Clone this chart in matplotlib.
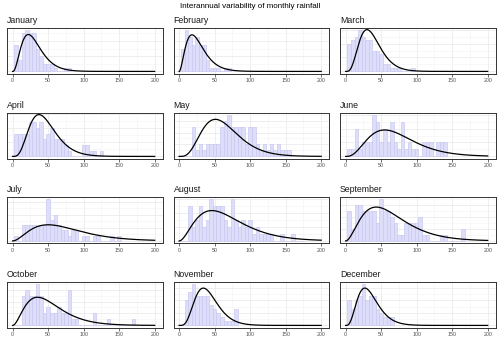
import math
import numpy as np
import matplotlib
matplotlib.use('Agg')
import matplotlib.pyplot as plt
from matplotlib.ticker import MultipleLocator, MaxNLocator, AutoMinorLocator

plt.rcParams['font.family'] = ['Liberation Sans', 'DejaVu Sans']

# histogram counts per month, bins of 5 mm centred on 0, 5, 10, ...
months = ['January', 'February', 'March', 'April', 'May', 'June',
          'July', 'August', 'September', 'October', 'November', 'December']

jan = [0, 7, 3, 10, 11, 10, 10, 6, 4, 2, 2, 2, 1, 0, 0, 1, 1]
feb = [0, 6, 11, 9, 7, 9, 7, 7, 3, 1, 1, 1, 0, 1, 1]
mar = [0, 8, 9, 10, 12, 10, 9, 9, 6, 6, 5, 2, 2, 1, 1, 1, 0, 0, 0, 1]
apr = [0, 4, 4, 4, 4, 6, 6, 5, 6, 3, 4, 5, 3, 3, 3, 2, 1, 0, 0, 0, 2, 2, 1, 1, 0, 1]
may = [0, 0, 0, 0, 5, 1, 2, 1, 2, 2, 2, 2, 5, 6, 7, 5, 5, 5, 5, 2, 5, 5, 2, 1,
       2, 1, 2, 1, 2, 1, 1, 1]
jun = [0, 1, 1, 4, 1, 2, 2, 2, 6, 5, 2, 4, 2, 5, 2, 1, 5, 1, 2, 1, 1, 0, 2, 2, 2,
       0, 2, 2, 2]
jul = [0, 1, 0, 3, 3, 3, 3, 3, 3, 3, 8, 4, 5, 3, 2, 2, 1, 2, 2, 0, 1, 1, 0, 1, 1,
       0, 0, 0, 1, 0, 1]
aug = [0, 0, 0, 5, 2, 3, 5, 2, 3, 6, 5, 5, 5, 3, 2, 6, 3, 2, 3, 2, 3, 1, 2, 1, 1,
       1, 1, 0, 0, 1, 0, 0, 1, 0, 0, 0]
sep = [0, 5, 2, 6, 6, 5, 5, 5, 5, 3, 7, 5, 5, 4, 3, 1, 1, 3, 3, 3, 3, 4, 1, 1, 0,
       0, 0, 1, 1, 0, 0, 0, 0, 2]
oct = [0, 0, 0, 5, 6, 5, 5, 7, 5, 2, 3, 2, 2, 3, 2, 2, 6, 1, 1, 0, 0, 0, 0, 2, 0,
       0, 0, 1, 0, 0, 0, 0, 0, 0, 1]
nov = [0, 0, 6, 8, 10, 7, 7, 7, 7, 5, 4, 3, 2, 1, 1, 1, 4]
dec = [0, 6, 4, 6, 7, 10, 6, 7, 7, 4, 3, 2, 2, 2]

counts = [jan, feb, mar, apr, may, jun, jul, aug, sep, oct, nov, dec]

# fitted gamma distribution per month (shape, scale in mm)
gamma_shape = [3.5, 3.0, 5.0, 5.0, 5.0, 4.0, 3.0, 3.0, 3.0, 3.0, 5.5, 4.5]
gamma_scale = [8.8, 9.0, 7.5, 9.25, 12.75, 18.3, 25.0, 23.0, 21.5, 17.5, 7.55, 7.7]

binwidth = 5

fig = plt.figure(figsize=(5, 3.5), dpi=100)
W, H = 500, 350
col_left = [7, 173.5, 340]
row_top = [27.5, 112.5, 197, 281.5]
pw, ph = 155.5, 46

xs = np.linspace(0.5, 200, 400)

for i, (name, c) in enumerate(zip(months, counts)):
    r, k = divmod(i, 3)
    ax = fig.add_axes([col_left[k] / W, 1 - (row_top[r] + ph) / H, pw / W, ph / H])
    c = np.array(c, dtype=float)
    centers = np.arange(len(c)) * binwidth
    ax.bar(centers, c, width=binwidth, color='#dedefa', edgecolor='#c9c9f0',
           linewidth=0.5, zorder=2)

    a, s = gamma_shape[i], gamma_scale[i]
    pdf = np.exp((a - 1) * np.log(xs) - xs / s - math.lgamma(a) - a * math.log(s))
    dens = pdf * c.sum() * binwidth
    ax.plot(np.r_[0, xs], np.r_[0, dens], color='black', lw=0.9, zorder=3)

    top = max(c.max(), dens.max())
    ax.set_ylim(-0.05 * top, 1.05 * top)
    ax.set_xlim(-8, 211)
    ax.xaxis.set_major_locator(MultipleLocator(50))
    ax.xaxis.set_minor_locator(MultipleLocator(25))
    ax.yaxis.set_major_locator(MaxNLocator(4))
    ax.yaxis.set_minor_locator(AutoMinorLocator(2))
    ax.grid(which='major', color='#ebebeb', lw=0.6, zorder=0)
    ax.grid(which='minor', color='#f4f4f4', lw=0.4, zorder=0)
    ax.set_axisbelow(True)
    ax.set_yticklabels([])
    ax.tick_params(axis='y', which='both', length=0)
    ax.tick_params(axis='x', which='minor', length=0)
    ax.tick_params(axis='x', which='major', length=2, width=0.5, color='#333333',
                   labelsize=3.8, labelcolor='#4d4d4d', pad=1.5)
    for sp in ax.spines.values():
        sp.set_color('#333333')
        sp.set_linewidth(0.7)
    ax.text(0, 1.06, name, transform=ax.transAxes, fontsize=6.3, color='#1a1a1a',
            ha='left', va='bottom')

fig.text(0.5, 1 - 7 / H, 'Interannual variability of monthly rainfall', ha='center',
         va='center', fontsize=5.8, color='black')

fig.savefig('out.png', dpi=100)
